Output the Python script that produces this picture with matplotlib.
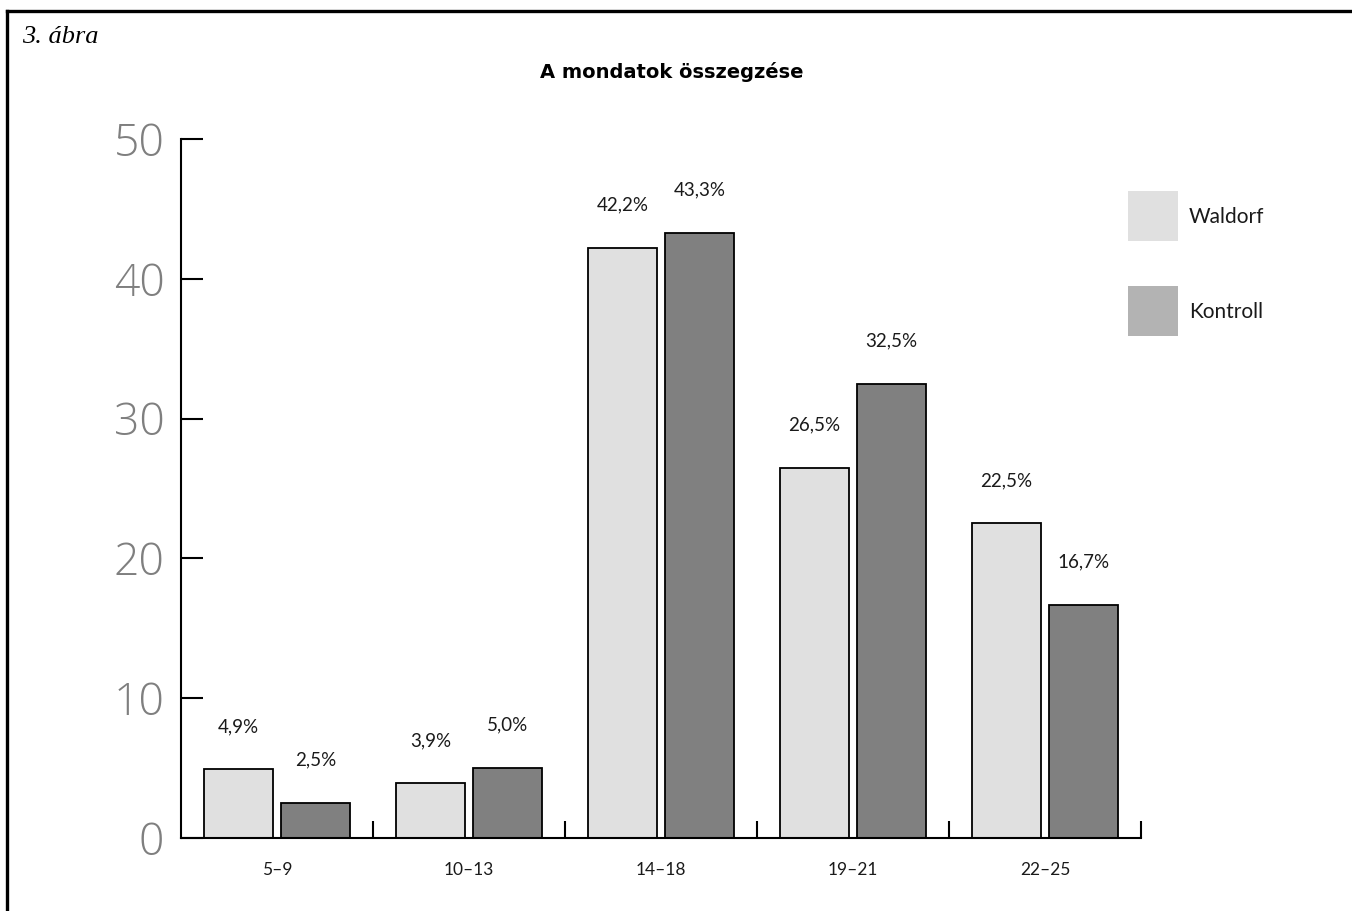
import matplotlib
matplotlib.use("Agg")
import matplotlib.pyplot as plt
from matplotlib.lines import Line2D
from matplotlib.patches import Rectangle
import numpy as np

categories = ["5–9", "10–13", "14–18", "19–21", "22–25"]
waldorf = [4.9, 3.9, 42.2, 26.5, 22.5]
kontroll = [2.5, 5.0, 43.3, 32.5, 16.7]
series_names = ["Waldorf", "Kontroll"]
y_ticks = [0, 10, 20, 30, 40, 50]

W, H = 1352, 911
DPI = 100
fig = plt.figure(figsize=(W / DPI, H / DPI), dpi=DPI)
fig.patch.set_facecolor("white")

# plot area in pixels
ax_l, ax_r, ax_t, ax_b = 181, 1141, 139, 838
ax = fig.add_axes([ax_l / W, (H - ax_b) / H, (ax_r - ax_l) / W, (ax_b - ax_t) / H])

x = np.arange(len(categories))
bw = 0.36
off = 0.2
c_w, c_k, c_k_leg = "#e0e0e0", "#808080", "#b3b3b3"
ax.bar(x - off, waldorf, bw, color=c_w, edgecolor="black", linewidth=1.3, zorder=2)
ax.bar(x + off, kontroll, bw, color=c_k, edgecolor="black", linewidth=1.3, zorder=2)

lab_font = dict(family="Lato", fontsize=13.5, color="#1a1a1a")
for xi, v in zip(x - off, waldorf):
    ax.annotate(f"{v:.1f}".replace(".", ",") + "%", (xi, v), xytext=(0, 31),
                textcoords="offset points", ha="center", va="center", **lab_font)
for xi, v in zip(x + off, kontroll):
    ax.annotate(f"{v:.1f}".replace(".", ",") + "%", (xi, v), xytext=(0, 31),
                textcoords="offset points", ha="center", va="center", **lab_font)

ax.set_xlim(-0.5, len(categories) - 0.5)
ax.set_ylim(0, 50)

for s in ("top", "right"):
    ax.spines[s].set_visible(False)
for s in ("left", "bottom"):
    ax.spines[s].set_linewidth(1.5)
    ax.spines[s].set_color("black")

ax.set_yticks(y_ticks)
ax.set_yticklabels([str(t) for t in y_ticks], family="Open Sans", fontweight="light",
                   fontsize=32, color="#7f7f7f")
ax.tick_params(axis="y", direction="in", length=16, width=1.5, pad=12)

ax.set_xticks(np.append(x[1:] - 0.5, x[-1] + 0.5))
ax.set_xticklabels([])
ax.tick_params(axis="x", which="major", direction="in", length=12.5, width=1.5)
ax.set_xticks(x, minor=True)
ax.set_xticklabels(categories, minor=True, family="Lato", fontsize=12.5, color="#1a1a1a")
ax.tick_params(axis="x", which="minor", length=0, pad=17)

# legend drawn as swatches in figure pixels
for (name, col, top) in [(series_names[0], c_w, 191), (series_names[1], c_k_leg, 286)]:
    fig.add_artist(Rectangle((1128 / W, (H - top - 50) / H), 50 / W, 50 / H,
                             facecolor=col, edgecolor="none", transform=fig.transFigure))
    fig.text(1189 / W, (H - top - 26) / H, name, ha="left", va="center",
             family="Lato", fontsize=15, color="#1a1a1a")

fig.text(672 / W, (H - 72) / H, "A mondatok összegzése", ha="center", va="center",
         family="DejaVu Sans", fontweight="bold", fontsize=14, color="black")
fig.text(22 / W, (H - 37) / H, "3. ábra", ha="left", va="center",
         family="Liberation Serif", style="italic", fontsize=19, color="black")

# outer frame (left and top edges)
fig.add_artist(Line2D([7 / W, 7 / W], [0, (H - 11) / H], color="black", linewidth=2.4,
                      transform=fig.transFigure))
fig.add_artist(Line2D([7 / W, 1], [(H - 11) / H, (H - 11) / H], color="black",
                      linewidth=2.4, transform=fig.transFigure))

fig.savefig("out.png", dpi=DPI)
